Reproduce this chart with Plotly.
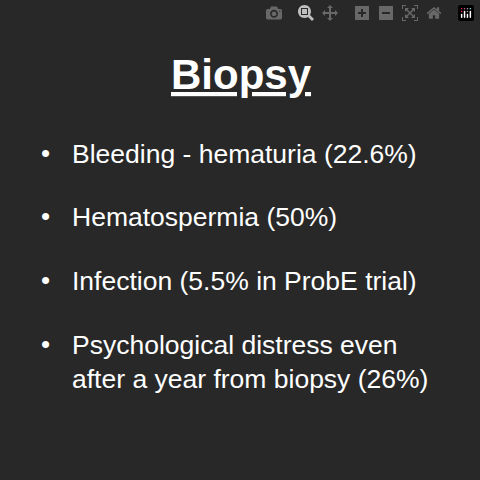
import plotly.graph_objects as go

title = "Biopsy"
bullets = [
    "Bleeding - hematuria (22.6%)",
    "Hematospermia (50%)",
    "Infection (5.5% in ProbE trial)",
    "Psychological distress even<br>after a year from biopsy (26%)",
]
bullet_y = [153, 216, 280, 344]

fig = go.Figure()
fig.add_annotation(x=241, y=74, text="<b><u>" + title + "</u></b>", showarrow=False,
                   font=dict(family="Liberation Sans, Arial", size=42, color="white"),
                   xanchor="center", yanchor="middle")
for t, y in zip(bullets, bullet_y):
    fig.add_annotation(x=39, y=y, text="•", showarrow=False,
                       font=dict(family="Liberation Sans, Arial", size=26, color="white"),
                       xanchor="left", yanchor="middle")
    fig.add_annotation(x=70, y=y, text=t, showarrow=False, align="left",
                       font=dict(family="Liberation Sans, Arial", size=26.5, color="white"),
                       xanchor="left", yanchor="top", yshift=16)

fig.update_xaxes(range=[0, 480], visible=False)
fig.update_yaxes(range=[480, 0], visible=False)
fig.update_layout(width=480, height=480, margin=dict(l=0, r=0, t=0, b=0),
                  paper_bgcolor="#282828", plot_bgcolor="#282828", showlegend=False)
fig.write_html("out.html", post_script="document.body.style.margin='0';document.body.style.background='#282828';document.body.style.overflow='hidden';")
